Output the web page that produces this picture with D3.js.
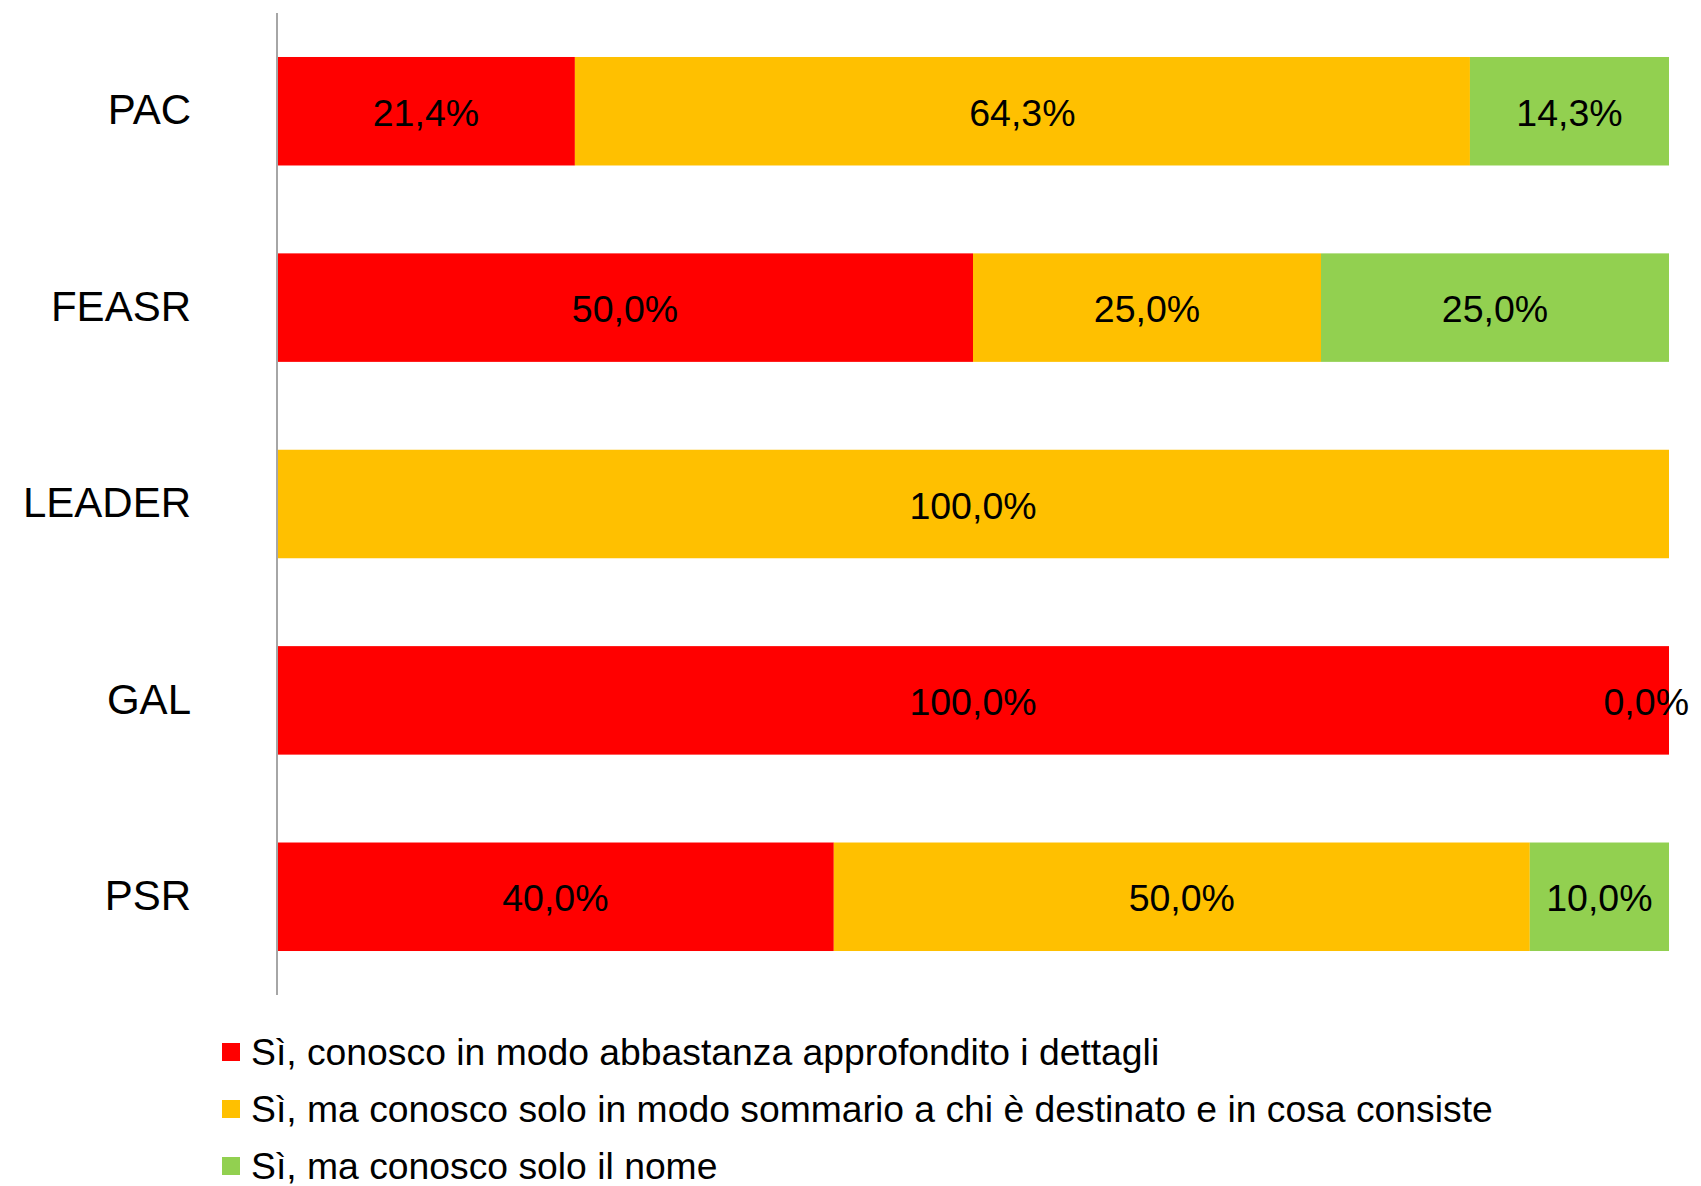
<!DOCTYPE html>
<html>
<head>
<meta charset="utf-8">
<title>Conoscenza</title>
<style>
  body { margin: 0; background: #fff; }
  text { font-family: "Liberation Sans", Arial, sans-serif; fill: #000; }
</style>
</head>
<body>
<div id="chart"></div>
<script src="https://cdn.jsdelivr.net/npm/d3@7"></script>
<script>
// data (percent), null = no label shown
var categories = ["PAC", "FEASR", "LEADER", "GAL", "PSR"];
var approfondito = [21.4, 50.0, null, 100.0, 40.0];
var sommario = [64.3, 25.0, 100.0, null, 50.0];
var soloNome = [14.3, 25.0, null, 0.0, 10.0];
var seriesNames = [
  "Sì, conosco in modo abbastanza approfondito i dettagli",
  "Sì, ma conosco solo in modo sommario a chi è destinato e in cosa consiste",
  "Sì, ma conosco solo il nome"
];
var colors = ["#FF0000", "#FFC000", "#92D050"];

var width = 1701, height = 1186;
var margin = { left: 277, right: 32, top: 13, bottom: 191 };

var svg = d3.select("#chart").append("svg")
  .attr("width", width)
  .attr("height", height);

var x = d3.scaleLinear()
  .domain([0, 100])
  .range([margin.left, width - margin.right]);

var y = d3.scaleBand()
  .domain(categories)
  .range([margin.top, height - margin.bottom])
  .paddingInner(0.4475)
  .paddingOuter(0.224);

var rows = categories.map(function (c, i) {
  return { cat: c, vals: [approfondito[i], sommario[i], soloNome[i]] };
});

rows.forEach(function (r) {
  var start = 0;
  r.vals.forEach(function (v, k) {
    if (v === null) return;
    var x0 = x(start), x1 = x(start + v);
    svg.append("rect")
      .attr("x", x0)
      .attr("y", y(r.cat))
      .attr("width", x1 - x0)
      .attr("height", y.bandwidth())
      .attr("fill", colors[k]);
    var t = svg.append("text")
      .attr("y", y(r.cat) + y.bandwidth() / 2 + 1)
      .attr("dy", "0.36em")
      .attr("text-anchor", "middle")
      .attr("font-size", 37.5)
      .text(d3.format(".1f")(v).replace(".", ",") + "%");
    // keep the label inside the chart area
    var tw = t.node().getComputedTextLength();
    var cx = Math.min((x0 + x1) / 2, width - 12 - tw / 2);
    t.attr("x", cx);
    start += v;
  });
});

// vertical axis line
svg.append("line")
  .attr("x1", x(0)).attr("x2", x(0))
  .attr("y1", margin.top).attr("y2", height - margin.bottom)
  .attr("stroke", "#A6A6A6")
  .attr("stroke-width", 2);

// category labels
svg.selectAll(".cat")
  .data(categories)
  .enter().append("text")
  .attr("class", "cat")
  .attr("x", 191)
  .attr("y", function (d) { return y(d) + y.bandwidth() / 2 - 2; })
  .attr("dy", "0.36em")
  .attr("text-anchor", "end")
  .attr("font-size", 42)
  .text(function (d) { return d; });

// legend
var legend = svg.selectAll(".leg")
  .data(seriesNames)
  .enter().append("g")
  .attr("class", "leg")
  .attr("transform", function (d, i) { return "translate(222," + (1052 + i * 57) + ")"; });

legend.append("rect")
  .attr("x", 0).attr("y", -9)
  .attr("width", 18).attr("height", 18)
  .attr("fill", function (d, i) { return colors[i]; });

legend.append("text")
  .attr("x", 29)
  .attr("dy", "0.36em")
  .attr("font-size", 37.3)
  .text(function (d) { return d; });
</script>
</body>
</html>
